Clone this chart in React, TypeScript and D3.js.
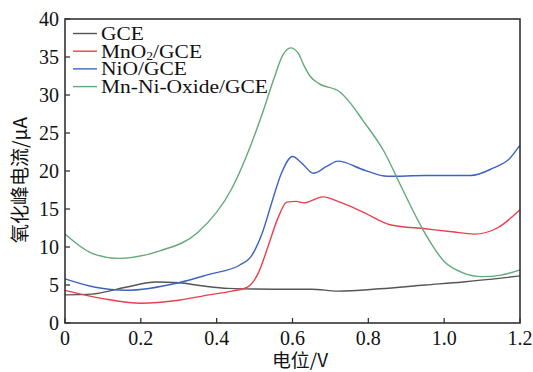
import React from "react";
import * as d3 from "d3";

// Oxidation peak current vs. potential for four electrodes
const xTicks = [0, 0.2, 0.4, 0.6, 0.8, 1.0, 1.2];
const yTicks = [0, 5, 10, 15, 20, 25, 30, 35, 40];

const gceX = [0, 0.07, 0.16, 0.24, 0.3, 0.36, 0.43, 0.55, 0.65, 0.72, 0.83, 0.95, 1.05, 1.15, 1.2];
const gceY = [3.7, 3.8, 4.7, 5.4, 5.3, 4.9, 4.55, 4.45, 4.45, 4.2, 4.5, 5.0, 5.4, 5.9, 6.2];

const mnoX = [0, 0.1, 0.2, 0.3, 0.38, 0.44, 0.48, 0.51, 0.535, 0.56, 0.585, 0.61, 0.63, 0.68, 0.73, 0.79, 0.86, 0.95, 1.02, 1.08, 1.14, 1.2];
const mnoY = [4.3, 3.2, 2.6, 3.0, 3.7, 4.2, 4.7, 6.6, 10.0, 13.6, 15.9, 16.0, 15.8, 16.6, 15.8, 14.5, 12.9, 12.4, 12.0, 11.7, 12.5, 14.9];

const nioX = [0, 0.08, 0.16, 0.3, 0.38, 0.46, 0.49, 0.52, 0.545, 0.57, 0.6, 0.625, 0.655, 0.69, 0.72, 0.79, 0.85, 0.95, 1.07, 1.13, 1.17, 1.2];
const nioY = [5.8, 4.7, 4.3, 5.3, 6.4, 7.6, 8.7, 11.8, 15.8, 19.6, 21.9, 21.0, 19.7, 20.6, 21.3, 20.1, 19.3, 19.4, 19.4, 20.4, 21.5, 23.4];

const mixX = [0, 0.07, 0.14, 0.25, 0.35, 0.44, 0.49, 0.52, 0.55, 0.575, 0.595, 0.615, 0.63, 0.646, 0.67, 0.725, 0.75, 0.785, 0.84, 0.89, 0.945, 1.0, 1.05, 1.1, 1.15, 1.2];
const mixY = [11.7, 9.2, 8.5, 9.5, 11.9, 17.7, 23.4, 27.5, 32, 35.3, 36.2, 35.5, 33.9, 32.5, 31.5, 30.4, 29.1, 26.7, 22.7, 17.6, 12.2, 8.1, 6.6, 6.1, 6.3, 7.0];

const seriesNames = ["GCE", "MnO2/GCE", "NiO/GCE", "Mn-Ni-Oxide/GCE"];
const seriesColors = ["#555555", "#e8404c", "#3d63c2", "#62a97a"];

const W = 533;
const H = 372;
const left = 65;
const right = 520;
const top = 19;
const bottom = 323;

export default function App() {
  const x = d3.scaleLinear().domain([0, 1.2]).range([left, right]);
  const y = d3.scaleLinear().domain([0, 40]).range([bottom, top]);

  const series = [
    { xs: gceX, ys: gceY },
    { xs: mnoX, ys: mnoY },
    { xs: nioX, ys: nioY },
    { xs: mixX, ys: mixY },
  ];

  const line = d3
    .line<[number, number]>()
    .x((d) => x(d[0]))
    .y((d) => y(d[1]))
    .curve(d3.curveMonotoneX);

  const font = "'Liberation Serif', 'Times New Roman', serif";
  const cjk = "'Noto Sans CJK SC', sans-serif";

  return (
    <svg
      width={W}
      height={H}
      style={{ position: "absolute", left: 0, top: 0, background: "#fff" }}
    >
      {series.map((s, i) => (
        <path
          key={i}
          d={line(s.xs.map((v, j) => [v, s.ys[j]] as [number, number])) || ""}
          fill="none"
          stroke={seriesColors[i]}
          strokeWidth={1.4}
        />
      ))}

      {/* frame */}
      <rect
        x={left}
        y={top}
        width={right - left}
        height={bottom - top}
        fill="none"
        stroke="#333"
        strokeWidth={1.6}
      />

      {/* x ticks */}
      {xTicks.map((t) => (
        <g key={"x" + t}>
          <line x1={x(t)} x2={x(t)} y1={bottom} y2={bottom - 5} stroke="#333" strokeWidth={1.3} />
          <text
            x={x(t)}
            y={345}
            textAnchor="middle"
            fontFamily={font}
            fontSize={20}
            fill="#111"
          >
            {t === 0 ? "0" : t.toFixed(1)}
          </text>
        </g>
      ))}

      {/* y ticks */}
      {yTicks.map((t) => (
        <g key={"y" + t}>
          <line x1={left} x2={left + 5} y1={y(t)} y2={y(t)} stroke="#333" strokeWidth={1.3} />
          <text
            x={59}
            y={y(t)}
            dy="0.35em"
            textAnchor="end"
            fontFamily={font}
            fontSize={20}
            fill="#111"
          >
            {t}
          </text>
        </g>
      ))}

      {/* axis titles */}
      <text
        transform="translate(300,367) scale(1.05,1)"
        textAnchor="middle"
        fontFamily={cjk}
        fontSize={18}
        fill="#111"
      >
        电位/V
      </text>
      <text
        transform="translate(27,180) rotate(-90)"
        textAnchor="middle"
        fontFamily={cjk}
        fontSize={19}
        fill="#111"
      >
        氧化峰电流/μA
      </text>

      {/* legend */}
      {seriesNames.map((name, i) => {
        const ly = 33.5 + i * 17.7;
        return (
          <g key={name}>
            <line x1={73} x2={97} y1={ly} y2={ly} stroke={seriesColors[i]} strokeWidth={1.4} />
            <text
              transform={`translate(101,${ly + 6.5}) scale(1.13,1)`}
              fontFamily={font}
              fontSize={19}
              fill="#111"
            >
              {name === "MnO2/GCE" ? (
                <>
                  MnO
                  <tspan fontSize={12} dy="2.5">2</tspan>
                  <tspan dy="-2.5">/GCE</tspan>
                </>
              ) : (
                name
              )}
            </text>
          </g>
        );
      })}
    </svg>
  );
}
